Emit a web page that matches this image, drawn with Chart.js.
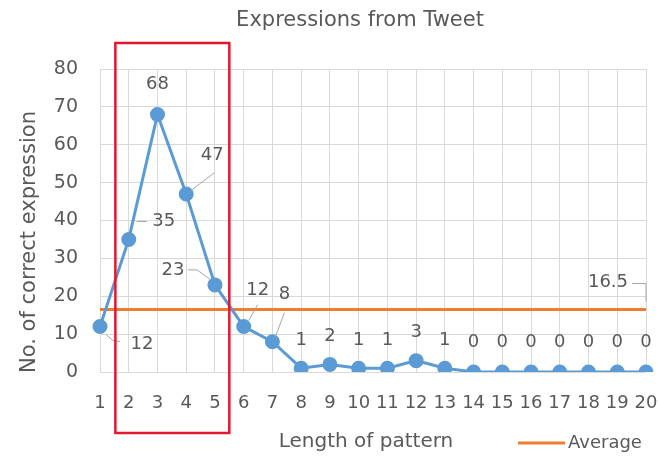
<!DOCTYPE html>
<html>
<head>
<meta charset="utf-8">
<script src="https://cdn.jsdelivr.net/npm/chart.js@4.4.1/dist/chart.umd.min.js"></script>
<style>
  html, body { margin: 0; padding: 0; background: #ffffff; }
  #wrap { width: 658px; height: 459px; position: relative; }
</style>
</head>
<body>
<div id="wrap"><canvas id="c" width="658" height="459"></canvas></div>
<script>
// Pattern lengths on the x axis
const patternLengths = ['1','2','3','4','5','6','7','8','9','10','11','12','13','14','15','16','17','18','19','20'];
// Correct expressions found for each pattern length
const correctCounts = [12, 35, 68, 47, 23, 12, 8, 1, 2, 1, 1, 3, 1, 0, 0, 0, 0, 0, 0, 0];
// Mean value drawn as a flat reference line
const averageValue = 16.5;
// Y axis range and step
const yTicks = { min: 0, max: 80, step: 10 };

const FONT = '"DejaVu Sans", "Open Sans", sans-serif';
const TEXT = '#595959';
const BLUE = '#5b9bd5';
const ORANGE = '#ed7d31';

// Placement of the value labels (offset from the point) and their leader lines
const labelPlacement = {
  0: { dx: 42, dy: 18, leader: [[6, 8], [13, 14], [20, 15]] },
  1: { dx: 35, dy: -18, leader: [[8, -18], [18, -18]] },
  2: { dx: 0, dy: -30 },
  3: { dx: 26, dy: -39, leader: [[4, -3], [28, -21]] },
  4: { dx: -42, dy: -15, leader: [[-27, -15], [-18, -15], [-4, -5]] },
  5: { dx: 14, dy: -36, leader: [[5, -6], [14, -22]] },
  6: { dx: 12, dy: -47, leader: [[3, -5], [12, -29]] },
  11: { dx: 0, dy: -28 }
};
const defaultPlacement = v => ({ dx: 0, dy: v === 0 ? -30 : -28 });
const averagePlacement = { dx: -38, dy: -27, leader: [[-14, -26], [0, -26], [0, -8]] };

const valueLabels = {
  id: 'valueLabels',
  afterDatasetsDraw(chart) {
    const ctx = chart.ctx;
    ctx.save();
    ctx.font = '18px ' + FONT;
    ctx.fillStyle = TEXT;
    ctx.textAlign = 'center';
    ctx.textBaseline = 'middle';
    const drawOne = (pt, text, pl) => {
      if (pl.leader) {
        ctx.beginPath();
        ctx.strokeStyle = '#a6a6a6';
        ctx.lineWidth = 1;
        pl.leader.forEach(([lx, ly], k) => {
          const X = pt.x + lx, Y = pt.y + ly;
          if (k === 0) ctx.moveTo(X, Y); else ctx.lineTo(X, Y);
        });
        ctx.stroke();
      }
      ctx.fillText(text, pt.x + pl.dx, pt.y + pl.dy);
    };
    const main = chart.getDatasetMeta(0);
    main.data.forEach((pt, i) => {
      const v = correctCounts[i];
      drawOne(pt, String(v), labelPlacement[i] || defaultPlacement(v));
    });
    const avg = chart.getDatasetMeta(1);
    const last = avg.data[avg.data.length - 1];
    drawOne(last, String(averageValue), averagePlacement);
    ctx.restore();
  }
};

// Titles, legend entry and the highlight box
const decorations = {
  id: 'decorations',
  afterDraw(chart) {
    const ctx = chart.ctx;
    const x = chart.scales.x;
    ctx.save();
    ctx.fillStyle = TEXT;
    ctx.textBaseline = 'middle';
    ctx.textAlign = 'center';
    ctx.font = '21px ' + FONT;
    ctx.fillText('Expressions from Tweet', 360, 21);
    ctx.font = '20px ' + FONT;
    ctx.fillText('Length of pattern', 366, 442);
    ctx.save();
    ctx.translate(30, 242);
    ctx.rotate(-Math.PI / 2);
    ctx.font = '21px ' + FONT;
    ctx.fillText('No. of correct expression', 0, 0);
    ctx.restore();
    // legend
    ctx.strokeStyle = ORANGE;
    ctx.lineWidth = 3;
    ctx.beginPath();
    ctx.moveTo(518, 443);
    ctx.lineTo(565, 443);
    ctx.stroke();
    ctx.textAlign = 'left';
    ctx.font = '18px ' + FONT;
    ctx.fillText('Average', 568, 443);
    // highlight box around lengths 2 to 5
    const left = (x.getPixelForValue(0) + x.getPixelForValue(1)) / 2;
    const right = (x.getPixelForValue(4) + x.getPixelForValue(5)) / 2;
    ctx.strokeStyle = '#e3172f';
    ctx.lineWidth = 2.5;
    ctx.strokeRect(left + 1, 43, right - left - 1, 390);
    ctx.restore();
  }
};

new Chart(document.getElementById('c'), {
  type: 'line',
  data: {
    labels: patternLengths,
    datasets: [
      {
        label: 'Count',
        data: correctCounts,
        borderColor: BLUE,
        backgroundColor: BLUE,
        borderWidth: 3,
        pointRadius: 6,
        pointHoverRadius: 6,
        pointBackgroundColor: BLUE,
        pointBorderColor: BLUE,
        tension: 0,
        order: 1
      },
      {
        label: 'Average',
        data: patternLengths.map(() => averageValue),
        borderColor: ORANGE,
        backgroundColor: ORANGE,
        borderWidth: 3,
        pointRadius: 0,
        tension: 0,
        order: 2
      }
    ]
  },
  options: {
    responsive: false,
    animation: false,
    layout: { padding: { left: 0, right: 12, top: 69, bottom: 0 } },
    plugins: {
      legend: { display: false },
      title: { display: false },
      tooltip: { enabled: false }
    },
    scales: {
      x: {
        offset: false,
        grid: { color: '#d9d9d9', lineWidth: 1, drawTicks: false },
        border: { display: false },
        ticks: { color: TEXT, font: { family: FONT, size: 18 }, padding: 21, maxRotation: 0, autoSkip: false },
        afterFit(scale) {
          scale.height = 87;
          scale.paddingLeft = 0;
          scale.paddingRight = 0;
        }
      },
      y: {
        min: yTicks.min,
        max: yTicks.max,
        grid: { color: '#d9d9d9', lineWidth: 1, drawTicks: false },
        border: { display: false },
        ticks: { stepSize: yTicks.step, color: TEXT, font: { family: FONT, size: 19 }, padding: 22 },
        afterFit(scale) {
          scale.width = 100;
          scale.paddingTop = 0;
          scale.paddingBottom = 0;
        }
      }
    }
  },
  plugins: [valueLabels, decorations]
});
</script>
</body>
</html>
